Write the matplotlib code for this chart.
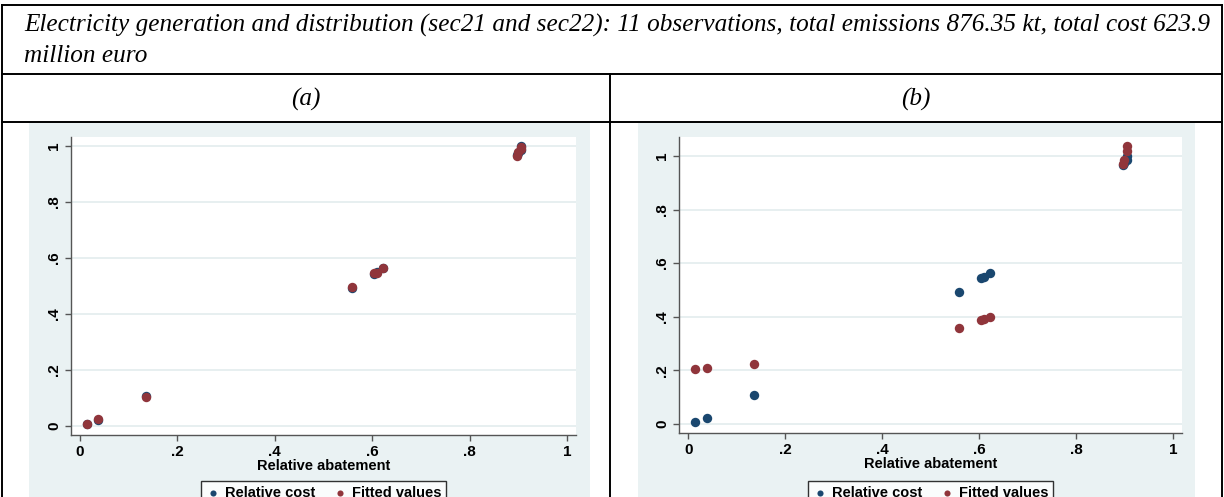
import matplotlib
matplotlib.use("Agg")
import matplotlib.pyplot as plt
from matplotlib.lines import Line2D
from matplotlib.patches import Rectangle

# --- Data ---
abatement = [0.015, 0.038, 0.135, 0.559, 0.604, 0.610, 0.623, 0.897, 0.900, 0.905, 0.905]
rel_cost = [0.006, 0.023, 0.106, 0.493, 0.543, 0.550, 0.565, 0.966, 0.975, 0.985, 1.000]
fitted_a = [0.008, 0.025, 0.104, 0.495, 0.545, 0.548, 0.563, 0.963, 0.978, 0.990, 0.998]
fitted_b = [0.205, 0.208, 0.224, 0.358, 0.387, 0.391, 0.399, 0.972, 0.985, 1.018, 1.036]

ticks = [0, 0.2, 0.4, 0.6, 0.8, 1.0]
tick_labels = ["0", ".2", ".4", ".6", ".8", "1"]

title_line1 = ("Electricity generation and distribution (sec21 and sec22): 11 observations, "
               "total emissions 876.35 kt, total cost 623.9")
title_line2 = "million euro"
panel_labels = ["(a)", "(b)"]

NAVY = "#1A476F"
MAROON = "#90353B"
BG = "#EAF2F3"
GRID = "#E3ECEE"

W, H = 1224, 497
fig = plt.figure(figsize=(W / 100, H / 100), dpi=100)


def fx(px):
    return px / W


def fy(py):
    return 1 - py / H


# --- table lines ---
lw = 1.4
for y in [5, 74, 122]:
    fig.add_artist(Line2D([fx(2), fx(1222)], [fy(y), fy(y)], color="black", lw=lw,
                          transform=fig.transFigure))
fig.add_artist(Line2D([fx(2), fx(2)], [fy(5), 0], color="black", lw=lw, transform=fig.transFigure))
fig.add_artist(Line2D([fx(1222), fx(1222)], [fy(5), 0], color="black", lw=lw, transform=fig.transFigure))
fig.add_artist(Line2D([fx(610), fx(610)], [fy(74), 0], color="black", lw=lw, transform=fig.transFigure))

serif = ["Liberation Serif", "DejaVu Serif"]
tsize = 18.2
fig.text(fx(24), fy(25), title_line1, fontsize=tsize, style="italic", family=serif,
         ha="left", va="center")
fig.text(fx(24), fy(56), title_line2, fontsize=tsize, style="italic", family=serif,
         ha="left", va="center")
fig.text(fx(306), fy(99), panel_labels[0], fontsize=tsize, style="italic", family=serif,
         ha="center", va="center")
fig.text(fx(916), fy(99), panel_labels[1], fontsize=tsize, style="italic", family=serif,
         ha="center", va="center")

# --- graph region backgrounds ---
for x0, x1 in [(29, 590), (638, 1195)]:
    fig.add_artist(Rectangle((fx(x0), 0), fx(x1) - fx(x0), fy(123), facecolor=BG,
                             edgecolor="none", transform=fig.transFigure, zorder=0))

panels = [
    dict(rect=(71, 576, 137, 435), xlim=(-0.018, 1.018), ylim=(-0.032, 1.032), fitted=fitted_a),
    dict(rect=(679, 1182, 137, 433), xlim=(-0.019, 1.019), ylim=(-0.034, 1.071), fitted=fitted_b),
]

sans = ["Liberation Sans", "DejaVu Sans"]
for p in panels:
    l, r, t, b = p["rect"]
    ax = fig.add_axes([fx(l), fy(b), fx(r) - fx(l), fy(t) - fy(b)])
    ax.set_facecolor("white")
    ax.scatter(abatement, rel_cost, s=46, color=NAVY, label="Relative cost", zorder=3,
               linewidths=0)
    ax.scatter(abatement, p["fitted"], s=46, color=MAROON, label="Fitted values", zorder=4,
               linewidths=0)
    ax.set_xlim(*p["xlim"])
    ax.set_ylim(*p["ylim"])
    ax.set_xticks(ticks)
    ax.set_xticklabels(tick_labels, family=sans, fontsize=11, fontweight="bold")
    ax.set_yticks(ticks)
    ax.set_yticklabels(tick_labels, family=sans, fontsize=11, fontweight="bold",
                       rotation=90, va="center")
    ax.grid(axis="y", color=GRID, lw=1.2)
    ax.set_axisbelow(True)
    for s in ["top", "right"]:
        ax.spines[s].set_visible(False)
    for s in ["left", "bottom"]:
        ax.spines[s].set_color("#555555")
        ax.spines[s].set_linewidth(1.0)
    ax.tick_params(length=4, width=1.0, color="#555555", pad=3)
    ax.set_xlabel("Relative abatement", family=sans, fontsize=10.5, fontweight="bold",
                  labelpad=0)
    leg = ax.legend(loc="upper center", bbox_to_anchor=(fx((l + r) / 2), fy(481)),
                    bbox_transform=fig.transFigure, ncol=2, frameon=True, fancybox=False,
                    prop={"family": sans, "size": 10.5, "weight": "bold"},
                    handletextpad=0.3, columnspacing=1.2, borderpad=0.35, scatterpoints=1,
                    markerscale=0.65, handlelength=1.0, borderaxespad=0)
    leg.get_frame().set_edgecolor("black")
    leg.get_frame().set_linewidth(1.0)

fig.savefig("out.png", dpi=100)
